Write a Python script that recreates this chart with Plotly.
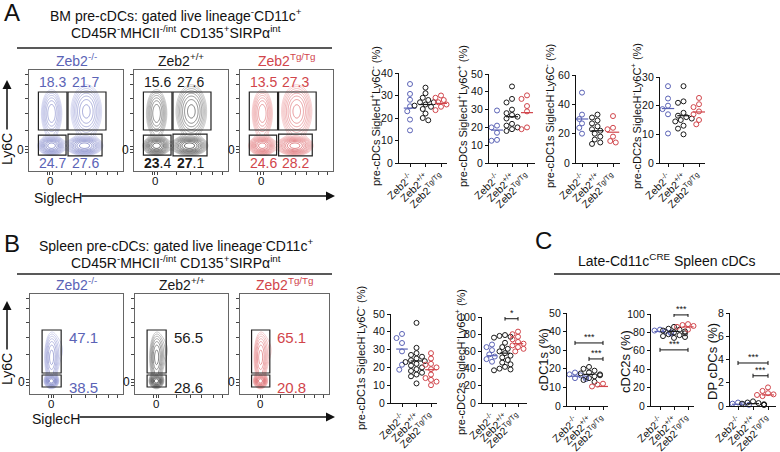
import numpy as np
import plotly.graph_objects as go

W, H = 780, 452
FONT = 'Arial, "Liberation Sans", Helvetica, sans-serif'
BLUE = '#5b63b6'
BLACK = '#1a1a1a'
RED = '#d1454b'
COLORS = [BLUE, BLACK, RED]
LIGHT = ['#c3c6ea', '#b0b0b0', '#f2b5b7']

genotypes = ['Zeb2<sup>-/-</sup>', 'Zeb2<sup>+/+</sup>', 'Zeb2<sup>Tg/Tg</sup>']

# ---------------- flow gate percentages ----------------
a_flow_pct = [['18.3', '21.7', '24.7', '27.6'],
              ['15.6', '27.6', '<b>23</b>.4', '<b>27</b>.1'],
              ['13.5', '27.3', '24.6', '28.2']]
b_flow_pct = [['47.1', '38.5'], ['56.5', '28.6'], ['65.1', '20.8']]

# ---------------- dot plot data ----------------
a1_ko = [35.1, 30.7, 28.1, 25.2, 23.0, 19.3, 14.5]
a1_wt = [33.5, 31, 29, 28, 27, 27, 26, 25.5, 25, 24, 22, 20, 19]
a1_tg = [30, 29, 28, 27, 26, 25, 23.5]
a1_mid = [24.4, 26.0, 26.5]

a2_ko = [29.5, 21, 20, 17, 13, 12.5]
a2_wt = [43, 36, 34, 30, 28, 27, 26, 25, 22, 21, 20, 19, 18]
a2_tg = [38, 36, 32, 29, 20, 19]
a2_mid = [18.5, 26.0, 28.3]

a3_ko = [48, 33, 30, 27, 24, 20]
a3_wt = [33, 31, 29, 27, 25, 23, 22, 20, 18, 16, 14, 13]
a3_tg = [32, 24, 23, 18, 15, 14]
a3_mid = [30.0, 22.0, 21.0]

a4_ko = [26.8, 22.5, 20, 18.8, 17, 10.3]
a4_wt = [26.8, 21.5, 21, 17.5, 16.5, 16, 15.5, 15, 14.5, 13, 12, 10]
a4_tg = [22.7, 20.5, 19.5, 18, 17, 15, 13.5]
a4_mid = [19.0, 16.5, 17.8]

b1_ko = [38.8, 36.5, 33.7, 29, 21.5, 18.7]
b1_wt = [45, 31, 28, 27, 26, 25, 24, 23.5, 23, 22, 21, 20, 19, 18, 17, 16, 15, 11]
b1_tg = [28, 25, 22, 21.5, 20, 19, 16, 14, 13, 12, 10]
b1_mid = [30.3, 23.6, 18.7]

b2_ko = [68, 65, 61.5, 56.5, 54, 51, 48]
b2_wt = [79, 78, 77, 76, 70, 65, 63, 60, 58, 55, 53, 50, 47, 45, 42, 40, 39, 38]
b2_tg = [83, 80, 77, 74, 71, 69, 67, 65, 63, 60]
b2_mid = [55.0, 58.0, 69.0]

c1_ko = [18, 17, 16.5, 16, 15.5, 15, 14.5]
c1_wt = [21, 20, 19, 18, 17.5, 17, 16.5, 16, 15, 14, 13]
c1_tg = [12, 11.5, 11, 10.5, 10, 10, 9.5]
c1_mid = [16.0, 17.0, 10.5]

c2_ko = [83, 82, 81, 80, 80, 79]
c2_wt = [86, 84, 83, 82, 81, 80, 79, 78, 77, 76, 75, 74]
c2_tg = [89, 88, 87, 86, 86, 85, 84, 83]
c2_mid = [81.0, 81.0, 86.0]

c3_ko = [0.3, 0.2, 0.15, 0.1, 0.1]
c3_wt = [0.4, 0.3, 0.25, 0.2, 0.15, 0.1, 0.1]
c3_tg = [1.6, 1.3, 1.1, 1.0, 0.95, 0.9, 0.85, 0.8]
c3_mid = [0.15, 0.2, 0.95]


def xp(px):
    return px / W


def yp(py):
    return 1 - py / H


layout = dict(width=W, height=H, margin=dict(l=0, r=0, t=0, b=0, pad=0, autoexpand=False),
              paper_bgcolor='white', plot_bgcolor='rgba(0,0,0,0)',
              showlegend=False, font=dict(family=FONT, color='#111'))
annotations, shapes, traces = [], [], []
counter = [0]


def new_axes():
    counter[0] += 1
    n = counter[0]
    s = '' if n == 1 else str(n)
    return 'xaxis' + s, 'yaxis' + s, 'x' + s, 'y' + s


def text(px, py, t, size=14, color='#111', angle=0, xanchor='center', yanchor='middle'):
    annotations.append(dict(x=xp(px), y=yp(py), xref='paper', yref='paper', text=t,
                            showarrow=False, textangle=angle, xanchor=xanchor, yanchor=yanchor,
                            font=dict(size=size, color=color, family=FONT)))


def hline(x0, x1, py, width=1.5, color='#222'):
    shapes.append(dict(type='line', xref='paper', yref='paper', x0=xp(x0), x1=xp(x1),
                       y0=yp(py), y1=yp(py), line=dict(color=color, width=width)))


def arrow(x_tip, y_tip, x_tail, y_tail):
    annotations.append(dict(x=xp(x_tip), y=yp(y_tip), xref='paper', yref='paper',
                            ax=x_tail - x_tip, ay=y_tail - y_tip, text='', showarrow=True,
                            arrowhead=2, arrowsize=1.2, arrowwidth=1.5, arrowcolor='#111'))


g = np.linspace(0, 100, 101)
GX, GY = np.meshgrid(g, g)


def density(blobs):
    z = np.zeros_like(GX)
    for cx, cy, sx, sy, w in blobs:
        z += w * np.exp(-((GX - cx) ** 2 / (2 * sx ** 2) + (GY - cy) ** 2 / (2 * sy ** 2)))
    z = z / z.max()
    return np.log10(z + 1e-6)


a_blobs = [(24, 25, 6, 4, 1.0), (59, 25, 8, 4, 1.0), (24, 57, 5.5, 12, 0.35), (61, 59, 8, 13, 0.4)]
b_blobs = [(23, 13, 3.2, 3, 1.0), (23, 36, 3.8, 13, 0.3), (31, 44, 7, 13, 0.06)]


def flow_plot(x0, x1, y0, y1, idx, blobs, gates, labels, label_pos, label_size, ytick0, xtick0):
    xa, ya, xr, yr = new_axes()
    col = COLORS[idx]
    traces.append(go.Contour(x=g, y=g, z=density(blobs), xaxis=xr, yaxis=yr,
                             contours=dict(coloring='lines', start=-1.3, end=-0.05, size=0.12),
                             line=dict(width=0.7), colorscale=[[0, LIGHT[idx]], [1, col]],
                             showscale=False, hoverinfo='skip'))
    common = dict(range=[0, 100], showgrid=False, zeroline=False, showline=True, mirror=True,
                  linecolor='#666', linewidth=1, ticks='outside', ticklen=3, tickcolor='#444',
                  showticklabels=False, automargin=False)
    layout[xa] = dict(domain=[xp(x0), xp(x1)], anchor=yr,
                      tickvals=[xtick0 - 3, xtick0, xtick0 + 3, 45, 60, 72, 84, 94], **common)
    layout[ya] = dict(domain=[yp(y1), yp(y0)], anchor=xr,
                      tickvals=[ytick0 - 3, ytick0, ytick0 + 3, 40, 57, 72, 86, 96], **common)
    annotations.append(dict(x=xtick0, y=0, xref=xr, yref=yr, text='0', showarrow=False,
                            yanchor='top', yshift=-2, font=dict(size=11.5, color='#111', family=FONT)))
    annotations.append(dict(x=0, y=ytick0, xref=xr, yref=yr, text='0', showarrow=False,
                            xanchor='right', xshift=-3, font=dict(size=12, color='#111', family=FONT)))
    for (gx0, gx1, gy0, gy1) in gates:
        shapes.append(dict(type='rect', xref=xr, yref=yr, x0=gx0, x1=gx1, y0=gy0, y1=gy1,
                           line=dict(color='#222', width=1.2)))
    for t, (lx, ly) in zip(labels, label_pos):
        annotations.append(dict(x=lx, y=ly, xref=xr, yref=yr, text=t, showarrow=False,
                                font=dict(size=label_size, color=col, family=FONT)))
    text((x0 + x1) / 2, y0 - 10, genotypes[idx], size=14, color=col)


def swarm(vals, ppu_y, ppu_x, d=5.0):
    vals = list(vals)
    order = np.argsort(-np.asarray(vals), kind='stable')
    placed = []
    offs = [0.0] * len(vals)
    cand = [0, -1, 1, -2, 2, -3, 3, -4, 4]
    for i in order:
        yv = vals[i] * ppu_y
        xv = 0.0
        for c in cand:
            xv = c * d * 0.55
            if all((xv - a) ** 2 + (yv - b) ** 2 >= d * d for a, b in placed):
                break
        placed.append((xv, yv))
        offs[i] = xv / ppu_x
    return offs


def dot_plot(ax_px, end_px, c0_px, c2_px, y0_px, ytop_px, ytop, dtick, series, mids,
             title, title_x, title_y, title_size=11, brackets=()):
    xa, ya, xr, yr = new_axes()
    s = (c2_px - c0_px) / 2
    xr0 = -(c0_px - ax_px) / s
    xr1 = 2 + (end_px - c2_px) / s
    ppu_x = s
    ppu_y = (y0_px - ytop_px) / ytop
    for i, vals in enumerate(series):
        offs = swarm(vals, ppu_y, ppu_x)
        traces.append(go.Scatter(x=[i + o for o in offs], y=vals, xaxis=xr, yaxis=yr, mode='markers',
                                 marker=dict(symbol='circle-open', size=5, color=COLORS[i],
                                             line=dict(width=1, color=COLORS[i])),
                                 cliponaxis=False, hoverinfo='skip'))
        traces.append(go.Scatter(x=[i - 0.4, i + 0.4], y=[mids[i], mids[i]], xaxis=xr, yaxis=yr,
                                 mode='lines', line=dict(color=COLORS[i], width=1.2),
                                 cliponaxis=False, hoverinfo='skip'))
    layout[xa] = dict(domain=[xp(ax_px), xp(end_px)], anchor=yr, range=[xr0, xr1],
                      tickvals=[0, 1, 2], ticktext=genotypes, tickangle=-45, automargin=False,
                      showgrid=False, zeroline=False, showline=True, linecolor='#111', linewidth=1.2,
                      ticks='outside', ticklen=3, tickwidth=1, tickcolor='#111',
                      tickfont=dict(size=10.5, family=FONT, color='#111'))
    layout[ya] = dict(domain=[yp(y0_px), yp(ytop_px)], anchor=xr, range=[0, ytop], dtick=dtick,
                      automargin=False,
                      showgrid=False, zeroline=False, showline=True, linecolor='#111', linewidth=1.2,
                      ticks='outside', ticklen=3, tickwidth=1.2, tickcolor='#111',
                      tickfont=dict(size=10.5, family=FONT, color='#111'))
    text(title_x, title_y, title, size=title_size, angle=-90)
    h = 0.022 * ytop
    for (b0, b1, by, star) in brackets:
        shapes.append(dict(type='line', xref=xr, yref=yr, x0=b0, x1=b1, y0=by, y1=by,
                           line=dict(color='#111', width=1)))
        for bx in (b0, b1):
            shapes.append(dict(type='line', xref=xr, yref=yr, x0=bx, x1=bx, y0=by - h, y1=by + h,
                               line=dict(color='#111', width=1)))
        annotations.append(dict(x=(b0 + b1) / 2, y=by, xref=xr, yref=yr, text=star, showarrow=False,
                                yanchor='bottom', yshift=-1, font=dict(size=9, color='#111', family=FONT)))


# ================= Panel A =================
text(12, 13, 'A', size=24)
text(176, 15, 'BM pre-cDCs: gated live lineage<sup>-</sup>CD11c<sup>+</sup>', size=14)
text(176, 32, 'CD45R<sup>-</sup>MHCII<sup>-/int</sup> CD135<sup>+</sup>SIRP\u03b1<sup>int</sup>', size=14)
hline(17, 332, 48)

a_gates = [(10, 40.4, 40.6, 78.2), (41.5, 81.9, 40.6, 78.2), (10, 39.4, 15.8, 35.6), (41.5, 77.7, 14.9, 36.6)]
a_lpos = [(25.5, 88), (60, 88), (25.5, 8), (60, 8)]
for i, (x0, x1) in enumerate([(29, 123), (134, 228), (240, 333)]):
    flow_plot(x0, x1, 70, 171, i, a_blobs, a_gates, a_flow_pct[i], a_lpos, 14, 21, 22.3)

text(7, 149, 'Ly6C', size=14, angle=-90)
arrow(7, 80, 7, 131)
text(32, 198, 'SiglecH', size=14, xanchor='left')
arrow(335, 196, 80, 196)

dot_plot(399, 447, 410, 441, 163, 73, 40, 10, [a1_ko, a1_wt, a1_tg], a1_mid,
         'pre-cDCs SiglecH<sup>+</sup>Ly6C<sup>-</sup> (%)', 375, 116)
dot_plot(489, 535, 497, 527, 163, 74, 50, 10, [a2_ko, a2_wt, a2_tg], a2_mid,
         'pre-cDCs SiglecH<sup>+</sup>Ly6C<sup>+</sup> (%)', 462, 116)
dot_plot(576, 620, 582, 613, 163, 75, 60, 20, [a3_ko, a3_wt, a3_tg], a3_mid,
         'pre-cDC1s SiglecH<sup>-</sup>Ly6C<sup>-</sup> (%)', 549, 116)
dot_plot(660, 705, 668, 699, 163, 77, 30, 10, [a4_ko, a4_wt, a4_tg], a4_mid,
         'pre-cDC2s SiglecH<sup>-</sup>Ly6C<sup>+</sup> (%)', 636, 116)

# ================= Panel B =================
text(12, 243, 'B', size=24)
text(176, 245, 'Spleen pre-cDCs: gated live lineage<sup>-</sup>CD11c<sup>+</sup>', size=14)
text(176, 262, 'CD45R<sup>-</sup>MHCII<sup>-/int</sup> CD135<sup>+</sup>SIRP\u03b1<sup>int</sup>', size=14)
hline(17, 332, 274)

b_gates = [(13, 33.5, 21, 64), (13, 33.5, 7, 19)]
b_lpos = [(58, 57), (58, 7)]
for i, (x0, x1) in enumerate([(30, 123), (135, 228), (240, 329)]):
    flow_plot(x0, x1, 294, 394, i, b_blobs, b_gates, b_flow_pct[i], b_lpos, 15, 12, 22.6)

text(7, 369, 'Ly6C', size=14, angle=-90)
arrow(7, 301, 7, 351)
text(30, 419, 'SiglecH', size=14, xanchor='left')
arrow(335, 417, 78, 417)

dot_plot(391, 437, 402, 431, 403, 314, 50, 10, [b1_ko, b1_wt, b1_tg], b1_mid,
         'pre-cDC1s SiglecH<sup>-</sup>Ly6C<sup>-</sup> (%)', 360, 358)
dot_plot(482, 527, 492, 518, 403, 317, 100, 20, [b2_ko, b2_wt, b2_tg], b2_mid,
         'pre-cDC2s SiglecH<sup>-</sup>Ly6C<sup>+</sup> (%)', 460, 362,
         brackets=[(1, 2, 98, '*')])

# ================= Panel C =================
text(543, 240, 'C', size=24)
text(667, 260, 'Late-Cd11c<sup>CRE</sup> Spleen cDCs', size=14)
hline(554, 780, 274)

dot_plot(567, 608, 575, 603, 406, 313, 50, 10, [c1_ko, c1_wt, c1_tg], c1_mid,
         'cDC1s (%)', 543, 360, title_size=13,
         brackets=[(0, 2, 33.9, '***'), (1, 2, 25.3, '***')])
dot_plot(651, 694, 660, 688, 406, 314, 100, 20, [c2_ko, c2_wt, c2_tg], c2_mid,
         'cDC2s (%)', 625, 362, title_size=13,
         brackets=[(1, 2, 99, '***'), (0, 2, 61, '***')])
dot_plot(730, 776, 738, 768, 406, 313, 8, 2, [c3_ko, c3_wt, c3_tg], c3_mid,
         'DP cDCs (%)', 712, 362, title_size=13,
         brackets=[(0, 2, 3.7, '***'), (1, 2, 2.6, '***')])

layout['annotations'] = annotations
layout['shapes'] = shapes
fig = go.Figure(data=traces, layout=layout)
fig.write_html('out.html', config={'displayModeBar': False},
               post_script="document.body.style.margin='0px';document.body.style.padding='0px';")
